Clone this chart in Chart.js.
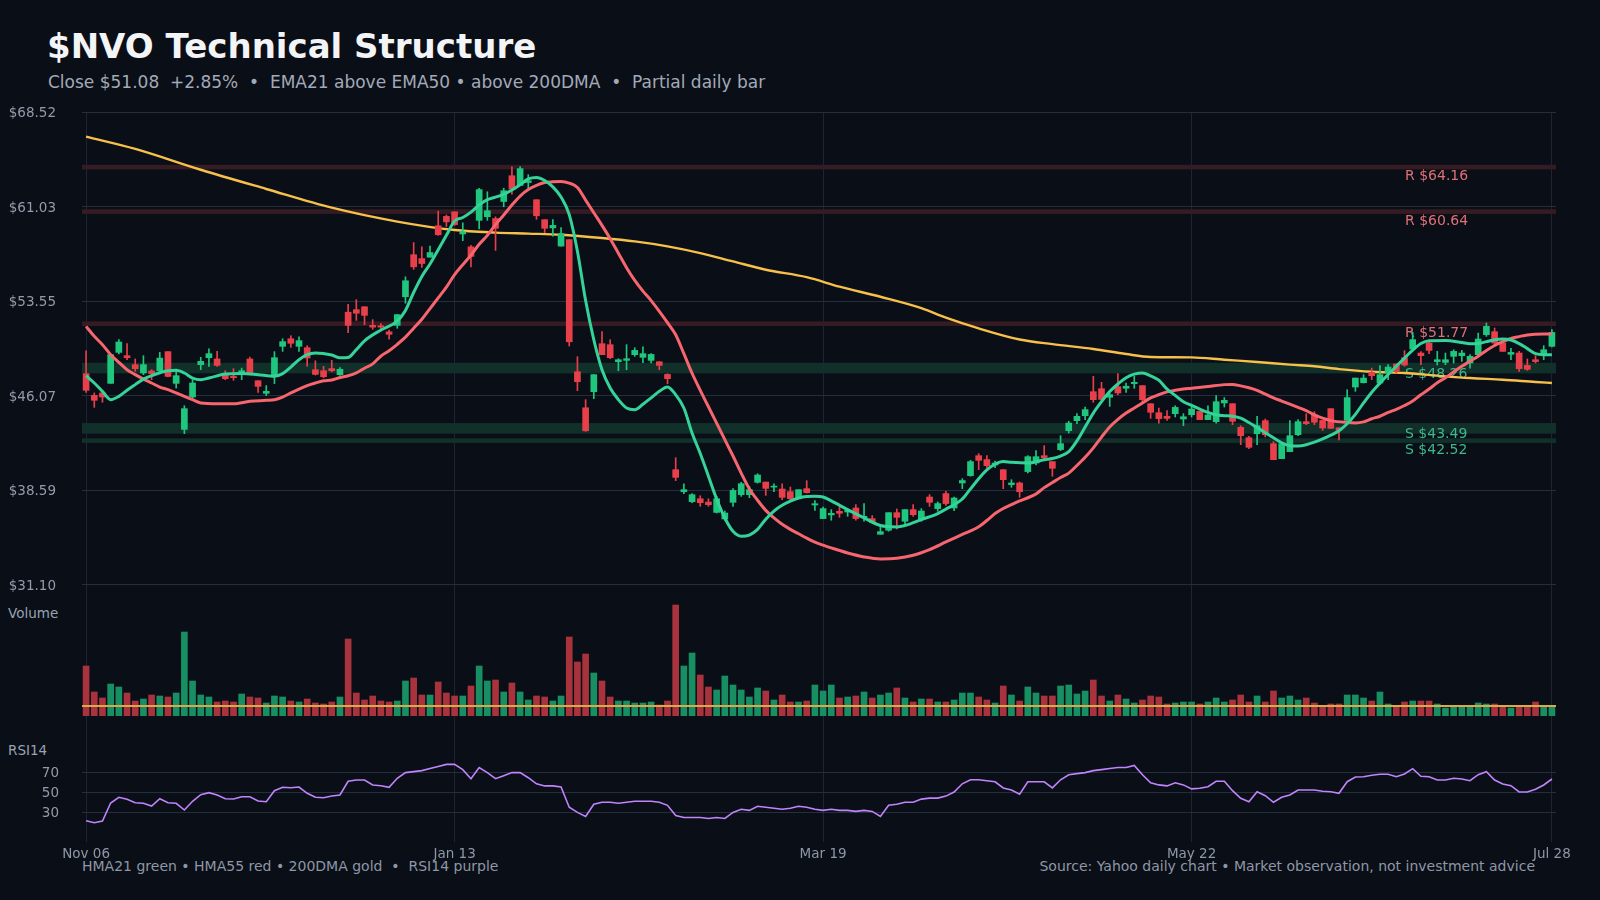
<!DOCTYPE html>
<html>
<head>
<meta charset="utf-8">
<script src="https://cdn.jsdelivr.net/npm/chart.js@4.4.1/dist/chart.umd.min.js"></script>
<style>
  body { margin: 0; width: 1600px; height: 900px; overflow: hidden; position: relative; background: #0a0e17; font-family: 'DejaVu Sans', sans-serif; }
  .txt { position: absolute; white-space: pre; }
  canvas { position: absolute; left: 0; }
</style>
</head>
<body>
<div class="txt" style="left:47px;top:26px;font-size:34px;line-height:40px;font-weight:bold;color:#f3f4f6">$NVO Technical Structure</div>
<div class="txt" style="left:48px;top:72px;font-size:17px;line-height:20px;color:#a2aab8">Close $51.08  +2.85%  •  EMA21 above EMA50 • above 200DMA  •  Partial daily bar</div>
<div class="txt" style="left:8px;top:605px;font-size:13.5px;line-height:16px;color:#9aa3b2">Volume</div>
<div class="txt" style="left:8px;top:742px;font-size:13.5px;line-height:16px;color:#9aa3b2">RSI14</div>
<div class="txt" style="left:82px;top:858px;font-size:14px;line-height:16px;color:#8e97a6">HMA21 green • HMA55 red • 200DMA gold  •  RSI14 purple</div>
<div class="txt" style="right:65px;top:858px;font-size:14px;line-height:16px;color:#8e97a6">Source: Yahoo daily chart • Market observation, not investment advice</div>

<canvas id="priceChart" width="1600" height="600" style="top:0"></canvas>
<canvas id="volChart" width="1600" height="116" style="top:600px"></canvas>
<canvas id="rsiChart" width="1600" height="184" style="top:716px"></canvas>

<script>
// ---- data ----
const opens = [47.82,46.10,46.29,47.05,49.50,49.24,48.53,47.87,48.03,48.05,
  49.56,47.05,43.41,45.97,48.53,49.08,48.98,47.82,47.60,47.82,
  48.98,47.26,46.26,47.60,49.98,50.58,49.98,49.87,48.13,48.05,
  48.22,47.74,52.68,52.88,53.11,51.64,51.61,51.13,51.64,53.90,
  57.23,56.92,57.03,59.52,60.26,60.62,58.87,57.85,59.95,60.23,
  60.09,61.44,63.48,62.71,62.94,61.58,60.00,59.35,57.91,58.42,
  47.97,45.12,46.39,50.19,50.11,48.76,48.87,49.32,49.11,48.87,
  48.76,47.76,40.22,38.48,37.69,37.92,37.66,36.84,36.32,37.64,
  38.24,38.24,39.22,39.24,38.84,38.69,38.48,37.92,38.72,37.43,
  36.35,36.64,36.93,36.87,37.19,36.43,36.35,35.11,35.43,36.82,
  36.14,37.06,36.32,38.06,37.14,38.33,37.19,39.17,39.75,41.33,
  41.02,40.59,40.22,39.04,39.17,40.07,40.75,41.33,40.86,41.81,
  43.31,44.10,44.49,46.39,46.63,45.95,46.79,46.66,47.03,46.87,
  45.44,44.73,44.44,44.65,44.23,44.57,44.84,44.18,44.02,45.50,
  45.44,43.57,42.75,43.07,44.10,42.28,41.09,41.65,42.99,44.02,
  44.55,44.12,45.05,43.54,44.12,46.76,47.10,47.92,47.08,47.87,
  48.58,49.08,49.77,49.45,50.24,48.77,48.71,49.19,49.24,48.66,
  49.32,50.90,51.14,50.24,49.35,49.45,48.47,48.92,49.32,49.98];
const highs = [49.63,46.29,46.29,49.32,50.51,50.19,48.98,49.24,48.13,49.50,
  49.56,48.13,45.28,47.34,49.11,49.79,49.58,48.05,48.21,48.26,
  49.13,47.26,46.87,49.56,50.58,50.82,50.74,50.03,48.84,48.40,
  48.87,48.30,53.30,53.67,53.11,52.09,51.78,51.27,52.49,55.48,
  58.19,57.85,57.91,60.68,60.37,60.62,59.75,57.97,62.49,62.21,
  60.23,62.49,64.18,64.20,63.56,61.58,60.00,60.00,59.38,58.42,
  49.16,45.76,47.74,51.14,50.50,49.00,50.11,49.87,49.95,49.40,
  48.76,47.81,41.17,39.11,38.32,38.16,37.92,38.11,36.95,38.72,
  39.22,38.90,39.90,39.24,39.11,39.11,38.85,38.64,39.35,37.77,
  37.27,37.06,37.27,37.06,37.46,37.54,36.59,35.79,36.82,37.11,
  37.06,37.46,37.14,38.25,37.67,38.51,38.06,39.51,40.96,41.49,
  41.33,40.91,40.22,39.43,39.25,41.33,41.73,42.12,40.86,42.91,
  44.05,44.65,45.18,47.61,47.13,46.29,47.82,47.08,47.61,46.87,
  45.44,45.10,44.89,45.28,44.65,45.23,44.84,45.28,46.08,45.92,
  45.44,43.70,42.86,44.44,44.23,42.44,42.28,44.10,44.18,44.65,
  44.81,44.12,45.05,43.54,46.55,47.47,47.74,48.26,48.45,48.53,
  48.58,49.64,51.09,49.56,50.37,49.58,49.45,49.71,49.66,49.32,
  51.03,51.82,51.43,50.51,49.82,49.58,48.98,49.24,50.03,51.30];
const lows = [46.34,45.15,45.55,47.05,49.37,48.92,48.00,47.74,47.34,47.87,
  47.55,46.68,43.07,45.86,48.13,48.40,48.40,47.34,47.29,47.34,
  47.82,46.34,46.08,47.03,49.58,49.90,49.58,48.40,47.71,47.50,
  47.96,47.68,51.07,52.03,51.69,51.33,51.19,50.54,51.41,53.39,
  56.07,56.22,57.03,58.76,59.46,59.55,58.34,56.27,59.27,59.95,
  57.57,61.02,62.01,62.71,62.49,60.03,58.98,58.70,57.91,50.00,
  46.47,43.25,45.84,49.32,49.00,48.05,48.13,49.19,48.68,48.66,
  48.13,47.02,39.35,38.32,37.61,37.32,37.32,36.79,36.21,37.32,
  38.11,38.00,39.16,38.19,38.48,37.85,37.71,37.92,38.37,37.00,
  36.35,36.22,36.45,36.53,36.22,36.14,36.01,35.11,35.35,35.53,
  35.82,36.53,36.14,37.32,36.93,37.40,36.98,38.72,39.70,40.22,
  40.38,40.38,38.72,38.83,38.04,39.96,40.59,41.02,39.70,41.73,
  43.12,43.86,44.18,45.55,45.76,45.23,46.16,46.34,46.66,45.55,
  44.28,43.91,44.12,44.39,43.70,44.39,44.18,44.18,43.91,45.18,
  43.78,42.20,41.88,42.20,42.81,41.01,41.09,41.65,42.91,43.78,
  43.78,43.33,43.49,42.57,44.12,46.42,47.08,47.34,47.08,47.34,
  47.87,48.40,49.71,48.53,49.40,48.50,48.53,48.66,48.79,48.26,
  49.24,50.77,49.98,49.58,48.92,48.00,48.08,48.66,48.92,49.93];
const closes = [46.50,45.71,45.97,49.32,50.32,49.08,48.21,48.53,47.82,49.05,
  47.60,47.66,45.05,47.08,48.79,49.40,48.47,47.42,47.50,48.05,
  47.87,46.81,46.42,49.08,50.35,50.22,50.43,49.06,47.76,47.58,
  48.05,48.16,51.64,52.60,52.43,51.50,51.50,50.93,52.49,55.17,
  56.27,56.53,57.40,58.81,59.83,59.61,59.04,57.09,62.38,60.71,
  59.32,62.29,62.43,64.04,63.08,60.31,59.32,59.55,58.90,50.34,
  47.18,43.30,47.74,49.32,49.08,48.92,49.00,49.66,49.40,49.34,
  48.47,47.42,39.61,38.64,38.24,37.61,37.45,37.92,36.79,38.58,
  39.11,38.64,39.80,38.74,38.92,38.03,37.92,38.64,38.40,37.53,
  37.14,36.77,36.77,37.00,36.35,36.53,36.06,35.32,36.82,36.45,
  37.06,36.66,36.95,37.64,37.54,37.54,37.98,39.36,40.86,40.96,
  40.54,40.75,39.43,39.17,38.48,41.25,41.25,41.17,40.33,42.28,
  43.91,44.44,44.97,45.76,45.78,46.16,46.29,46.82,47.13,45.76,
  44.76,44.26,44.28,45.15,44.41,45.02,44.18,44.55,45.60,45.71,
  44.05,42.91,41.99,43.70,42.99,41.01,42.28,42.91,44.02,43.86,
  43.97,43.52,43.49,43.33,45.92,47.47,47.47,47.66,47.74,48.34,
  48.00,48.50,50.51,49.24,49.66,48.92,48.92,49.58,49.45,49.19,
  50.56,51.56,50.24,49.58,49.50,48.21,48.16,48.77,49.71,51.08];
// volume, millions of shares
const volumes = [10.0,4.8,3.6,6.4,5.8,4.6,3.0,3.4,4.2,4.0,
  3.8,4.6,16.8,7.0,4.2,3.8,2.8,3.0,2.8,4.4,
  3.8,3.6,2.6,4.0,3.8,3.0,2.8,3.4,2.6,2.4,
  2.8,3.8,15.4,4.6,3.2,4.0,3.0,2.8,3.0,7.0,
  7.6,4.2,4.2,6.8,4.6,4.0,4.0,6.0,10.0,7.0,
  7.2,4.8,6.6,4.8,3.2,4.0,3.8,3.0,4.0,15.8,
  10.8,12.4,8.6,7.0,3.8,3.0,3.0,2.6,2.6,2.8,
  2.2,3.0,22.2,10.0,12.6,8.2,5.8,5.2,8.0,6.2,
  5.2,3.8,5.6,5.0,3.2,4.2,2.8,2.8,3.0,6.2,
  5.0,6.2,3.6,3.8,4.0,4.8,3.6,4.2,4.6,5.6,
  3.6,2.8,3.4,3.4,2.8,2.8,3.2,4.6,4.6,3.8,
  3.2,2.6,6.0,4.2,3.0,5.8,4.6,4.0,4.0,6.0,
  6.2,4.4,5.0,7.2,4.0,3.0,4.2,3.4,2.6,3.2,
  4.0,3.8,2.4,2.6,2.8,2.8,2.4,2.8,3.6,2.8,
  3.2,4.2,2.8,4.0,2.8,5.0,3.6,4.0,3.2,3.6,
  2.6,2.0,2.4,2.4,4.2,4.2,3.6,3.0,4.8,2.4,
  2.0,2.8,3.0,3.0,3.0,2.4,1.6,2.0,2.0,2.0,
  2.6,2.4,2.4,2.0,1.6,2.0,2.0,2.8,2.0,2.0];
const volumeAvg = 2.0;
const rsi14 = [21.3,19.3,21.0,39.0,44.7,42.7,39.3,38.7,36.0,43.3,
  39.3,38.7,32.0,40.7,47.3,49.3,47.0,43.3,43.0,45.3,
  45.3,41.0,40.3,51.3,54.7,54.3,55.0,48.7,44.7,44.3,
  46.0,47.0,60.7,62.0,62.0,57.0,56.3,54.7,63.7,69.4,
  70.4,71.4,73.5,75.5,77.6,77.6,72.4,63.3,74.5,69.4,
  63.3,66.3,69.4,69.4,64.3,58.2,56.1,56.1,55.1,34.7,
  29.6,25.5,37.8,39.8,39.8,38.8,39.8,40.8,40.8,40.8,
  39.8,36.7,26.5,24.5,24.5,24.5,23.5,24.5,23.5,29.6,
  32.7,31.6,35.7,34.7,33.7,32.7,33.7,35.7,34.7,32.7,
  31.6,32.7,31.6,31.6,30.6,31.6,30.6,25.5,36.7,37.8,
  39.8,39.8,42.9,43.9,43.9,45.9,50.0,58.2,62.2,62.2,
  61.2,60.2,54.1,52.0,47.9,60.2,60.2,60.2,54.1,62.2,
  67.3,68.4,69.4,71.4,72.4,73.5,74.5,74.5,76.5,67.3,
  59.2,57.1,56.1,59.2,57.1,53.1,53.7,55.3,60.7,60.7,
  51.3,43.7,40.3,50.3,46.3,39.7,44.7,47.0,52.0,52.0,
  52.0,50.7,50.3,48.7,60.3,65.0,65.3,66.7,67.7,67.7,
  65.3,68.0,73.3,65.7,65.3,62.0,62.0,63.7,63.0,61.3,
  67.3,70.3,62.0,58.0,56.3,50.0,50.0,52.7,57.0,63.0];

// moving averages read at [bar index, value]
const hma21 = [[0,47.66],[1,47.08],[2,46.42],[3,45.76],[4,46.02],[5,46.50],[6,46.95],[7,47.39],[8,47.66],
  [10,48.05],[11,48.08],[12,47.87],[13,47.47],[14,47.34],[15,47.47],[17,47.79],[19,47.84],[21,47.74],
  [23,47.61],[24,47.82],[25,48.34],[26,48.92],[27,49.32],[28,49.45],[30,49.29],[31,49.07],[32,49.10],
  [33,49.72],[34,50.42],[36,51.27],[38,51.98],[39,52.82],[40,54.24],[41,55.51],[42,56.50],[43,57.63],
  [44,58.76],[45,59.89],[46,60.17],[47,60.60],[48,61.16],[49,61.58],[50,61.78],[51,62.01],[52,62.35],
  [53,62.77],[54,63.22],[55,63.34],[56,63.10],[57,62.60],[58,61.80],[59,60.40],[60,57.50],[61,53.60],
  [62,50.50],[63,48.13],[64,46.68],[65,45.76],[66,45.10],[67,44.97],[68,45.40],[69,45.90],[70,46.42],
  [71,46.76],[72,46.15],[73,45.10],[74,43.12],[75,41.50],[76,39.70],[77,37.90],[78,36.40],[79,35.34],
  [80,34.95],[81,35.05],[82,35.50],[83,36.30],[84,36.95],[85,37.40],[86,37.73],[87,37.98],[88,38.10],
  [89,38.12],[90,38.06],[91,37.75],[93,37.06],[95,36.40],[97,35.80],[99,35.69],[100,35.80],[102,36.27],
  [104,36.75],[105,37.10],[106,37.45],[107,37.90],[108,38.70],[109,39.50],[110,40.20],[111,40.65],
  [112,40.86],[113,40.80],[115,40.75],[117,41.00],[118,41.10],[119,41.30],[120,41.65],[121,42.50],
  [122,43.60],[123,44.70],[124,45.60],[125,46.40],[126,47.00],[127,47.50],[128,47.78],[129,47.87],
  [130,47.65],[131,47.30],[132,46.60],[133,46.10],[134,45.60],[135,45.30],[136,45.02],[137,44.75],
  [138,44.55],[139,44.49],[140,44.45],[141,44.30],[142,43.95],[143,43.55],[144,43.15],[145,42.75],
  [146,42.35],[147,42.12],[148,42.10],[149,42.20],[150,42.40],[151,42.65],[152,42.95],[153,43.30],
  [154,43.85],[155,44.60],[156,45.50],[157,46.35],[158,47.07],[159,47.75],[160,48.40],[161,49.05],
  [162,49.68],[163,50.20],[164,50.42],[166,50.45],[168,50.28],[169,50.18],[170,50.20],[171,50.35],
  [172,50.50],[173,50.56],[174,50.48],[175,50.20],[176,49.80],[177,49.40],[178,49.32],[179,49.32]];
const hma55 = [[0,51.56],[1,50.77],[2,50.11],[3,49.32],[4,48.71],[5,48.13],[6,47.74],[7,47.39],[8,47.08],
  [9,46.76],[10,46.55],[11,46.29],[12,46.02],[13,45.76],[14,45.50],[16,45.44],[18,45.44],[20,45.63],
  [22,45.71],[23,45.76],[24,45.97],[25,46.29],[26,46.60],[27,46.87],[28,47.08],[29,47.25],[30,47.31],
  [31,47.51],[32,47.65],[33,47.88],[34,48.25],[35,48.59],[36,49.21],[37,49.63],[38,50.14],[39,50.71],
  [40,51.41],[41,52.12],[42,52.97],[43,53.81],[44,54.66],[45,55.65],[46,56.44],[47,57.20],[48,58.05],
  [49,58.76],[50,59.61],[51,60.37],[52,61.16],[53,61.87],[54,62.38],[55,62.71],[56,62.94],[57,63.00],
  [58,63.03],[59,62.90],[60,62.55],[61,61.55],[62,60.55],[63,59.55],[64,58.50],[65,57.35],[66,56.20],
  [67,55.20],[68,54.35],[69,53.60],[70,52.75],[71,51.85],[72,50.90],[73,49.40],[74,47.85],[75,46.50],
  [76,45.20],[77,43.90],[78,42.60],[79,41.30],[80,39.95],[81,38.70],[82,37.80],[83,37.00],[84,36.40],
  [85,35.90],[86,35.50],[87,35.15],[88,34.80],[89,34.48],[90,34.25],[91,34.03],[93,33.63],[95,33.32],
  [97,33.16],[99,33.21],[101,33.45],[103,33.90],[105,34.50],[107,35.10],[109,35.70],[110,36.20],
  [111,36.75],[112,37.15],[113,37.45],[114,37.75],[115,38.00],[116,38.30],[117,38.80],[118,39.20],
  [119,39.60],[120,39.95],[121,40.55],[122,41.20],[123,41.95],[124,42.80],[125,43.60],[126,44.20],
  [127,44.70],[128,45.10],[129,45.50],[130,45.90],[131,46.15],[132,46.38],[133,46.50],[134,46.60],
  [135,46.66],[137,46.80],[139,46.95],[140,46.97],[141,46.85],[142,46.70],[143,46.50],[144,46.20],
  [145,45.90],[146,45.65],[147,45.40],[148,45.15],[149,44.90],[150,44.55],[151,44.30],[152,44.10],
  [154,43.95],[155,43.92],[156,44.00],[157,44.25],[158,44.45],[159,44.75],[160,45.00],[161,45.30],
  [162,45.65],[163,46.15],[164,46.60],[165,47.10],[166,47.50],[167,47.95],[168,48.40],[169,48.80],
  [170,49.20],[171,49.65],[172,50.05],[173,50.35],[174,50.60],[175,50.75],[176,50.88],[178,50.95],[179,50.95]];
const dma200 = [[0,66.57],[6,65.60],[14,63.95],[22,62.43],[30,60.95],[38,59.85],[45,59.18],[50,58.98],
  [54,58.90],[58,58.81],[63,58.55],[67,58.28],[71,57.89],[75,57.36],[79,56.70],[83,56.04],[88,55.45],
  [92,54.70],[97,53.90],[102,53.00],[105,52.25],[109,51.40],[114,50.52],[118,50.15],[123,49.77],
  [127,49.37],[130,49.14],[135,49.11],[139,48.92],[143,48.74],[147,48.53],[150,48.40],[153,48.18],
  [157,47.97],[161,47.87],[165,47.66],[169,47.47],[173,47.34],[177,47.16],[179,47.08]];

// support / resistance levels
const levelKind = ['R', 'R', 'R', 'S', 'S', 'S'];
const levelPrice = [64.16, 60.64, 51.77, 48.26, 43.49, 42.52];
const levelStrength = [1, 1, 1, 2, 2, 1];

// axes
const priceTicks = [31.10, 38.59, 46.07, 53.55, 61.03, 68.52];
const rsiTicks = [30, 50, 70];
const tickIdx = [0, 45, 90, 135, 179];

// trading-day categories from Nov 06 (US market holidays skipped)
const MONTHS = ['Jan','Feb','Mar','Apr','May','Jun','Jul','Aug','Sep','Oct','Nov','Dec'];
const holidays = ['2025-11-27','2025-12-25','2026-01-01','2026-01-19','2026-02-16','2026-04-03','2026-05-25','2026-06-19','2026-07-03'];
const labels = [];
for (let d = new Date(Date.UTC(2025, 10, 6)); labels.length < closes.length; d.setUTCDate(d.getUTCDate() + 1)) {
  const wd = d.getUTCDay();
  if (wd === 0 || wd === 6 || holidays.includes(d.toISOString().slice(0, 10))) continue;
  labels.push(MONTHS[d.getUTCMonth()] + ' ' + String(d.getUTCDate()).padStart(2, '0'));
}

// ---- styling ----
Chart.defaults.font.family = "'DejaVu Sans', sans-serif";
Chart.defaults.font.size = 13.5;
Chart.defaults.color = '#8f97a6';
Chart.defaults.animation = false;

const GRID = '#262d3d';
const VGRID = '#1e2434';
const UP = '#1fc77e', DOWN = '#e8404a';
const VOL_UP = '#178f62', VOL_DOWN = '#a8333d';
const isUp = i => closes[i] >= opens[i];
const pts = arr => arr.map(([i, v]) => ({ x: labels[i], y: v }));

function xAxis(showLabels) {
  return {
    type: 'category',
    offset: true,
    grid: { color: VGRID, drawTicks: false, offset: false },
    border: { display: false },
    ticks: { display: showLabels, autoSkip: false, maxRotation: 0, padding: 4, color: '#8f97a6' },
    afterBuildTicks: s => { s.ticks = tickIdx.map(v => ({ value: v })); },
    afterFit: s => { if (showLabels) s.height = 22; s.paddingLeft = 0; s.paddingRight = 0; }
  };
}
function fixLeft(s) { s.width = 82; s.paddingTop = 0; s.paddingBottom = 0; }

const levelBands = {
  id: 'levelBands',
  beforeDatasetsDraw(chart) {
    const { ctx, chartArea: a, scales: { y } } = chart;
    const style = { R: { fill: '#361b22', text: '#df6f76' }, S: { fill: '#11302a', text: '#3fb68b' } };
    const half = [2.3, 5.3], drop = [9.5, 6];
    ctx.save();
    ctx.font = "14px 'DejaVu Sans'";
    ctx.textBaseline = 'middle';
    levelPrice.forEach((p, k) => {
      const st = style[levelKind[k]], w = levelStrength[k] - 1, py = y.getPixelForValue(p);
      ctx.fillStyle = st.fill;
      ctx.fillRect(a.left, py - half[w], a.right - a.left, half[w] * 2);
      ctx.fillStyle = st.text;
      ctx.fillText(levelKind[k] + ' $' + p.toFixed(2), a.right - 151, py + drop[w]);
    });
    ctx.restore();
  }
};

const avgLine = {
  id: 'avgLine',
  afterDatasetsDraw(chart) {
    const { ctx, chartArea: a, scales: { y } } = chart;
    const py = y.getPixelForValue(volumeAvg);
    ctx.save();
    ctx.strokeStyle = '#d9aa47';
    ctx.lineWidth = 2;
    ctx.beginPath();
    ctx.moveTo(a.left, py);
    ctx.lineTo(a.right, py);
    ctx.stroke();
    ctx.restore();
  }
};

// ---- price panel ----
new Chart(document.getElementById('priceChart'), {
  type: 'bar',
  data: {
    labels: labels,
    datasets: [
      { type: 'line', label: 'HMA21', data: pts(hma21), borderColor: '#34d399', borderWidth: 3,
        pointRadius: 0, cubicInterpolationMode: 'monotone', order: 0 },
      { type: 'line', label: 'HMA55', data: pts(hma55), borderColor: '#f7666e', borderWidth: 3,
        pointRadius: 0, cubicInterpolationMode: 'monotone', order: 1 },
      { label: 'Body', data: opens.map((o, i) => [o, closes[i]]), grouped: false, barThickness: 6,
        minBarLength: 1, borderWidth: 0, backgroundColor: c => isUp(c.dataIndex) ? UP : DOWN, order: 2 },
      { label: 'Wick', data: lows.map((l, i) => [l, highs[i]]), grouped: false, barThickness: 1,
        borderWidth: 0, backgroundColor: c => isUp(c.dataIndex) ? UP : DOWN, order: 3 },
      { type: 'line', label: '200DMA', data: pts(dma200), borderColor: '#f7c04a', borderWidth: 2.4,
        pointRadius: 0, cubicInterpolationMode: 'monotone', order: 4 }
    ]
  },
  options: {
    responsive: false,
    layout: { padding: { top: 112, right: 44, bottom: 0, left: 0 } },
    plugins: { legend: { display: false }, tooltip: { enabled: false } },
    scales: {
      x: xAxis(false),
      y: {
        min: 29.91, max: 68.52,
        grid: { color: GRID, drawTicks: false },
        border: { display: false },
        ticks: { padding: 26, labelOffset: 1.5, color: '#939bab', callback: v => '$' + v.toFixed(2) },
        afterBuildTicks: s => { s.ticks = priceTicks.map(v => ({ value: v })); },
        afterFit: fixLeft
      }
    }
  },
  plugins: [levelBands]
});

// ---- volume panel ----
new Chart(document.getElementById('volChart'), {
  type: 'bar',
  data: {
    labels: labels,
    datasets: [{
      label: 'Volume', data: volumes, barThickness: 6, borderWidth: 0,
      backgroundColor: c => isUp(c.dataIndex) ? VOL_UP : VOL_DOWN
    }]
  },
  options: {
    responsive: false,
    layout: { padding: { top: 0, right: 44, bottom: 0, left: 0 } },
    plugins: { legend: { display: false }, tooltip: { enabled: false } },
    scales: {
      x: xAxis(false),
      y: {
        min: 0, max: 23.2,
        grid: { display: false },
        border: { display: false },
        ticks: { display: false },
        afterFit: fixLeft
      }
    }
  },
  plugins: [avgLine]
});

// ---- RSI panel ----
new Chart(document.getElementById('rsiChart'), {
  type: 'line',
  data: {
    labels: labels,
    datasets: [{
      label: 'RSI14', data: rsi14, borderColor: '#c084fc', borderWidth: 1.6,
      pointRadius: 0, tension: 0
    }]
  },
  options: {
    responsive: false,
    layout: { padding: { top: 0, right: 44, bottom: 36, left: 0 } },
    plugins: { legend: { display: false }, tooltip: { enabled: false } },
    scales: {
      x: xAxis(true),
      y: {
        min: 0, max: 126,
        grid: { color: GRID, drawTicks: false },
        border: { display: false },
        ticks: { padding: 23, labelOffset: 1, color: '#939bab' },
        afterBuildTicks: s => { s.ticks = rsiTicks.map(v => ({ value: v })); },
        afterFit: fixLeft
      }
    }
  }
});
</script>
</body>
</html>
